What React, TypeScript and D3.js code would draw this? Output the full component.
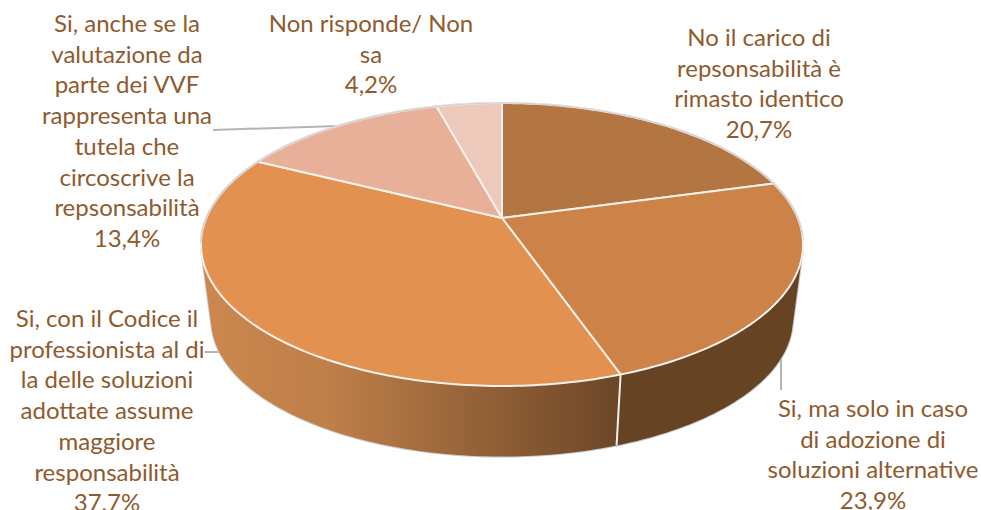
import * as d3 from 'd3';
import { useEffect, useRef } from 'react';

const values = [20.7, 23.9, 37.7, 13.4, 4.2];
const labelLines = [
  ['No il carico di', 'repsonsabilità è', 'rimasto identico'],
  ['Si, ma solo in caso', 'di adozione di', 'soluzioni alternative'],
  ['Si, con il Codice il', 'professionista al di', 'la delle soluzioni', 'adottate assume', 'maggiore', 'responsabilità'],
  ['Si, anche se la', 'valutazione da', 'parte dei VVF', 'rappresenta una', 'tutela che', 'circoscrive la', 'repsonsabilità'],
  ['Non risponde/ Non', 'sa'],
];
const topColors = ['#b37541', '#cd8248', '#e39150', '#e8b098', '#edc9bc'];
const sideColors = ['#6b4725', '#664323', 'url(#sideFill)', '#b98a76', '#c0a195'];
const labelAnchors = [
  { x: 759, y: 46 },
  { x: 873, y: 417 },
  { x: 107, y: 327 },
  { x: 127, y: 32 },
  { x: 371, y: 32 },
];
const leaders = [
  [[781, 356], [781, 390]],
  [[205, 352], [219, 352], [240, 374]],
  [[213, 130], [338, 126]],
];

const w = 981;
const h = 510;
const apex = { x: 502, y: 218 };
const k = 0.1873;
const rimX = 295.7;
const rimY = 136.5;
const depth = 76.3;
const shrink = 0.966;

type Pt = [number, number];

// the pie lies in perspective, so wedge angles go through this projection
function project(angle: number, lower = false): Pt {
  const u = Math.sin(angle);
  const v = -Math.cos(angle);
  const d = 1 - k * v;
  const px = (rimX * u) / d;
  const py = (rimY * v) / d;
  if (lower) {
    return [apex.x + shrink * px, apex.y + depth + shrink * py];
  }
  return [apex.x + px, apex.y + py];
}

function steps(a0: number, a1: number): number[] {
  const n = Math.max(2, Math.ceil((a1 - a0) * 60));
  return d3.range(n + 1).map((i) => a0 + ((a1 - a0) * i) / n);
}

function rim(a0: number, a1: number, lower = false): Pt[] {
  return steps(a0, a1).map((a) => project(a, lower));
}

export default function App() {
  const svgRef = useRef<SVGSVGElement>(null);

  useEffect(() => {
    if (svgRef.current == null) {
      return;
    }
    const svg = d3.select(svgRef.current);
    svg.selectAll('*').remove();

    const grad = svg
      .append('defs')
      .append('linearGradient')
      .attr('id', 'sideFill')
      .attr('gradientUnits', 'userSpaceOnUse')
      .attr('x1', 205)
      .attr('x2', 620)
      .attr('y1', 0)
      .attr('y2', 0);
    grad.append('stop').attr('offset', '0').attr('stop-color', '#cb874e');
    grad.append('stop').attr('offset', '0.3').attr('stop-color', '#bf7f49');
    grad.append('stop').attr('offset', '1').attr('stop-color', '#6b4627');

    const slices = d3.pie<number>().sort(null)(values);
    const line = d3.line();

    for (const pts of leaders) {
      svg
        .append('path')
        .attr('d', line(pts as Pt[]))
        .attr('fill', 'none')
        .attr('stroke', '#b4b4b8')
        .attr('stroke-width', 2);
    }

    // wall = one path of small quads, all wound the same way so the fill has no seams
    const wallPath = (a0: number, a1: number): string => {
      const as = steps(a0, a1);
      return as
        .slice(1)
        .map((a, j) => {
          const quad: Pt[] = [project(as[j]), project(a), project(a, true), project(as[j], true)];
          if (d3.polygonArea(quad) < 0) {
            quad.reverse();
          }
          return line(quad) + 'Z';
        })
        .join('');
    };

    // grey halo first, then the coloured wall over it
    slices.forEach((s) => {
      svg
        .append('path')
        .attr('d', wallPath(s.startAngle, s.endAngle))
        .attr('fill', '#c9c9c9')
        .attr('stroke', '#c9c9c9')
        .attr('stroke-width', 2);
    });
    slices.forEach((s, i) => {
      svg
        .append('path')
        .attr('d', wallPath(s.startAngle, s.endAngle))
        .attr('fill', sideColors[i]);
    });

    // visible seam on the wall between the two front slices
    svg
      .append('path')
      .attr('d', line([project(slices[1].endAngle), project(slices[1].endAngle, true)]))
      .attr('stroke', '#f2eee9')
      .attr('stroke-width', 2);

    slices.forEach((s, i) => {
      svg
        .append('path')
        .attr('d', line([[apex.x, apex.y], ...rim(s.startAngle, s.endAngle)]) + 'Z')
        .attr('fill', topColors[i])
        .attr('stroke', '#f6f1ea')
        .attr('stroke-width', 2)
        .attr('stroke-linejoin', 'round');
    });

    // back half of the rim is grey, not white
    svg
      .append('path')
      .attr('d', line(rim(-1.75, 1.7)))
      .attr('fill', 'none')
      .attr('stroke', '#d2d2d2')
      .attr('stroke-width', 1.4);

    const lineStep = 30.7;
    labelLines.forEach((lines, i) => {
      const text = svg
        .append('text')
        .attr('text-anchor', 'middle')
        .attr('font-family', 'Lato')
        .attr('font-size', 24)
        .attr('fill', '#8f5a2e');
      [...lines, `${String(values[i]).replace('.', ',')}%`].forEach((t, j) => {
        text
          .append('tspan')
          .attr('x', labelAnchors[i].x)
          .attr('y', labelAnchors[i].y + j * lineStep)
          .text(t);
      });
    });
  }, []);

  return (
    <svg
      ref={svgRef}
      width={w}
      height={h}
      style={{ position: 'absolute', left: 0, top: 0, display: 'block', background: '#fff' }}
    ></svg>
  );
}
